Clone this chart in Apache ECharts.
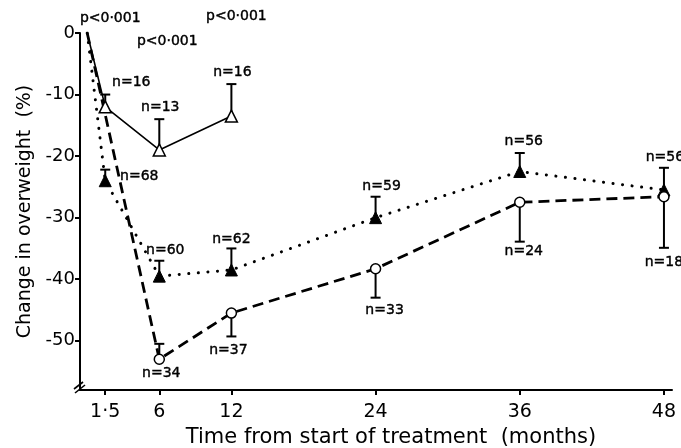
<!DOCTYPE html>
<html>
<head>
<meta charset="utf-8">
<script src="https://cdn.jsdelivr.net/npm/echarts@6/dist/echarts.min.js"></script>
<style>html,body{margin:0;padding:0;background:#fff}#c{width:681px;height:448px}</style>
</head>
<body>
<div id="c"></div>
<script>
// ---- data ----
const xTicks = [1.5, 6, 12, 24, 36, 48];
const yTicks = [0, -10, -20, -30, -40, -50];

const monthsA = [0, 1.5, 6, 12];
const valuesA = [0, -12, -19, -13.5];
const errA = [null, -10, -14, -8.3];
const nA = [null, 'n=16', 'n=13', 'n=16'];
const pA = [null, 'p<0·001', 'p<0·001', 'p<0·001'];

const monthsB = [0, 1.5, 6, 12, 24, 36, 48];
const valuesB = [0, -24, -39.5, -38.5, -30, -22.5, -25.5];
const errB = [null, -22.2, -37, -35, -26.6, -19.5, -21.9];
const nB = [null, 'n=68', 'n=60', 'n=62', 'n=59', 'n=56', 'n=56'];

const monthsC = [0, 6, 12, 24, 36, 48];
const valuesC = [0, -53, -45.5, -38.3, -27.5, -26.6];
const errC = [null, -50.5, -49.3, -43, -33.9, -34.9];
const nC = [null, 'n=34', 'n=37', 'n=33', 'n=24', 'n=18'];

// ---- layout of annotations (pixel offsets from the point) ----
const offA = [null, [26, -25], [1, -43], [1, -44]];
const offP = [null, [5, -89], [8, -109], [5, -100]];
const offB = [null, [34, -4], [6, -26], [0, -31], [6, -31], [4, -30], [1, -33]];
const offC = [null, [2, 14], [-3, 37], [9, 42], [4, 49], [0, 66]];

const FONT = 'DejaVu Sans';
const XMIN = -0.6, XMAX = 48.67, YMIN = -58, YMAX = 0;

function pts(xs, ys) { return xs.map((x, i) => [x, ys[i]]); }
function errData(xs, ys, es) {
  const out = [];
  xs.forEach((x, i) => { if (es[i] !== null) out.push([x, ys[i], es[i]]); });
  return out;
}
function labelData(xs, ys, texts, offs) {
  const out = [];
  xs.forEach((x, i) => {
    if (texts[i] !== null) out.push({ name: texts[i], value: [x, ys[i]], label: { offset: offs[i] } });
  });
  return out;
}
function errSeries(data) {
  return {
    type: 'custom', data: data, z: 5, silent: true,
    renderItem: function (params, api) {
      const p0 = api.coord([api.value(0), api.value(1)]);
      const p1 = api.coord([api.value(0), api.value(2)]);
      const w = 5;
      return {
        type: 'group', children: [
          { type: 'line', shape: { x1: p0[0], y1: p0[1], x2: p1[0], y2: p1[1] }, style: { stroke: '#000', lineWidth: 2 } },
          { type: 'line', shape: { x1: p1[0] - w, y1: p1[1], x2: p1[0] + w, y2: p1[1] }, style: { stroke: '#000', lineWidth: 2 } }
        ]
      };
    }
  };
}
function labelSeries(data, size) {
  return {
    type: 'scatter', data: data, symbolSize: 0, silent: true, z: 10,
    itemStyle: { opacity: 1 },
    label: {
      show: true, position: 'inside', formatter: '{b}', color: '#000', opacity: 1,
      fontFamily: FONT, fontSize: size, textBorderWidth: 0.4, textBorderColor: '#000'
    }
  };
}

const chart = echarts.init(document.getElementById('c'), null, { renderer: 'canvas' });
const option = {
  animation: false,
  backgroundColor: '#fff',
  grid: { left: 80, right: 9, top: 33, bottom: 58, containLabel: false, outerBoundsMode: 'none' },
  xAxis: {
    type: 'value', min: XMIN, max: XMAX,
    name: 'Time from start of treatment  (months)', nameLocation: 'middle', nameGap: 30,
    nameTextStyle: { fontFamily: FONT, fontSize: 21, color: '#000', padding: [0, 0, 0, 30] },
    axisLine: { show: true, onZero: false, lineStyle: { color: '#000', width: 2 } },
    axisTick: { show: true, customValues: xTicks, length: 5, lineStyle: { color: '#000', width: 2 } },
    axisLabel: {
      customValues: xTicks, color: '#000', fontFamily: FONT, fontSize: 19, margin: 13,
      formatter: v => String(v).replace('.', '·')
    },
    splitLine: { show: false }
  },
  yAxis: {
    type: 'value', min: YMIN, max: YMAX,
    name: 'Change in overweight  (%)', nameLocation: 'middle', nameGap: 42,
    nameTextStyle: { fontFamily: FONT, fontSize: 19, color: '#000' },
    axisLine: { show: true, onZero: false, lineStyle: { color: '#000', width: 2 } },
    axisTick: { show: true, customValues: yTicks, length: 5, lineStyle: { color: '#000', width: 2 } },
    axisLabel: { customValues: yTicks, color: '#000', fontFamily: FONT, fontSize: 18, margin: 5 },
    splitLine: { show: false }
  },
  series: [
    {
      type: 'line', data: pts(monthsA, valuesA), z: 6,
      lineStyle: { color: '#000', width: 1.6 },
      symbol: 'triangle', symbolSize: 12, showAllSymbol: true,
      itemStyle: { color: '#fff', borderColor: '#000', borderWidth: 1.5 }
    },
    {
      type: 'line', data: pts(monthsB, valuesB), z: 6,
      lineStyle: { color: '#000', width: 3, type: [0.1, 9.5], cap: 'round' },
      symbol: 'triangle', symbolSize: 12,
      itemStyle: { color: '#000', borderColor: '#000', borderWidth: 1 }
    },
    {
      type: 'line', data: pts(monthsC, valuesC), z: 6,
      lineStyle: { color: '#000', width: 2.8, type: [11, 6] },
      symbol: 'circle', symbolSize: 10,
      itemStyle: { color: '#fff', borderColor: '#000', borderWidth: 1.5 }
    },
    errSeries(errData(monthsA, valuesA, errA)),
    errSeries(errData(monthsB, valuesB, errB)),
    errSeries(errData(monthsC, valuesC, errC)),
    labelSeries(labelData(monthsA, valuesA, nA, offA), 14),
    labelSeries(labelData(monthsA, valuesA, pA, offP), 14),
    labelSeries(labelData(monthsB, valuesB, nB, offB), 14),
    labelSeries(labelData(monthsC, valuesC, nC, offC), 14)
  ]
};
// origin point carries no marker
option.series.slice(0, 3).forEach(s => {
  s.data = s.data.map((d, i) => i === 0 ? { value: d, symbol: 'none' } : d);
});
chart.setOption(option);

// axis break mark "//" near the bottom of the y axis
const bp = chart.convertToPixel({ gridIndex: 0 }, [XMIN, YMIN]);
const bx = bp[0], by = bp[1] - 4;
chart.setOption({
  graphic: [
    { type: 'line', shape: { x1: bx - 6, y1: by + 3, x2: bx + 3, y2: by - 4 }, style: { stroke: '#000', lineWidth: 1.6 } },
    { type: 'line', shape: { x1: bx - 5, y1: by + 7, x2: bx + 5, y2: by - 1 }, style: { stroke: '#000', lineWidth: 1.6 } }
  ]
});
</script>
</body>
</html>
